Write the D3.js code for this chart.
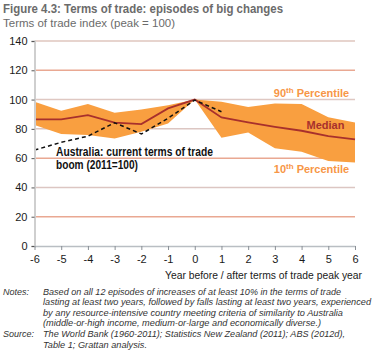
<!DOCTYPE html>
<html><head><meta charset="utf-8">
<script src="https://cdn.jsdelivr.net/npm/d3@7"></script>
<style>body{margin:0;background:#fff}svg{display:block}</style>
</head><body><div id="chart"></div>
<script>
const years = [-6,-5,-4,-3,-2,-1,0,1,2,3,4,5,6];
const p90 = [98.5,92.4,97,91,93.3,96.2,100,98.5,95,97.4,97,88,84.4];
const p10 = [82.6,76.5,75.8,73.5,78,83.7,100,74,77.5,66.7,64.4,58,57];
const median = [86.5,86.5,89.4,84.2,83.3,94,100,87.8,84.4,81.4,78.7,75,72.8];
const ausYears = [-6,-5,-4,-3,-2,-1,0,1];
const australia = [65.5,70.8,75,84.2,76.5,87.2,99.7,91.7];
const yTicks = [0,20,40,60,80,100,120,140];
const gridColors = {0:null,20:"#e9a892",40:"#dcc6c2",60:"#e9a892",80:"#dcc6c2",100:"#dfc8c2",120:"#e9a892",140:"#dfc6be"};

const W=378,H=362;
const F="Arial, Liberation Sans, sans-serif";
const svg=d3.select("#chart").append("svg").attr("width",W).attr("height",H);
const x=d3.scaleLinear().domain([-6,6]).range([34.5,355]);
const y=d3.scaleLinear().domain([0,140]).range([246,41]);

svg.append("text").attr("x",3).attr("y",13).attr("font-family",F)
  .attr("font-size",12).attr("font-weight","bold").attr("fill","#6b6b6b")
  .attr("textLength",280).attr("lengthAdjust","spacingAndGlyphs").text("Figure 4.3: Terms of trade: episodes of big changes");
svg.append("text").attr("x",3).attr("y",27).attr("font-family",F)
  .attr("font-size",11.5).attr("fill","#6b6b6b")
  .attr("textLength",172).attr("lengthAdjust","spacingAndGlyphs").text("Terms of trade index (peak = 100)");

// gridlines
svg.append("g").selectAll("line").data(yTicks.filter(d=>d>0)).join("line")
  .attr("x1",x(-6)).attr("x2",x(6)).attr("y1",d=>y(d)).attr("y2",d=>y(d))
  .attr("stroke",d=>gridColors[d]).attr("stroke-width",1.5);

// band
const area=d3.area().x((d,i)=>x(years[i])).y0((d,i)=>y(p10[i])).y1((d,i)=>y(p90[i]));
svg.append("path").datum(years).attr("d",area).attr("fill","#f99f40");

// median
const line=d3.line().x((d,i)=>x(years[i])).y(d=>y(d));
svg.append("path").datum(median).attr("d",line).attr("fill","none").attr("stroke","#a8302c").attr("stroke-width",1.8);

// australia
const aline=d3.line().x((d,i)=>x(ausYears[i])).y(d=>y(d));
svg.append("path").datum(australia).attr("d",aline).attr("fill","none").attr("stroke","#111").attr("stroke-width",1.5).attr("stroke-dasharray","4,3");

// y axis
const ya=svg.append("g").attr("transform",`translate(${x(-6)},0)`).call(d3.axisLeft(y).tickValues(yTicks).tickSize(3).tickPadding(4));
ya.select(".domain").attr("stroke","#cfcfcf").attr("stroke-width",2);
ya.selectAll(".tick line").attr("stroke","#555");
ya.selectAll("text").attr("font-family",F).attr("font-size",11).attr("fill","#1a1a1a");

// x axis
const xa=svg.append("g").attr("transform",`translate(0,${y(0)})`).call(d3.axisBottom(x).tickValues(years).tickFormat(d3.format("d")).tickSize(4).tickSizeOuter(0).tickPadding(5));
xa.select(".domain").attr("stroke","#b9bec3").attr("stroke-width",1.5);
xa.selectAll(".tick line").attr("stroke","#8a9096");
xa.selectAll("text").attr("font-family",F).attr("font-size",11).attr("fill","#1a1a1a").text(d=>d<0?"-"+Math.abs(d):d);

svg.append("text").attr("x",165).attr("y",279).attr("font-family",F)
  .attr("font-size",11).attr("fill","#1a1a1a").attr("textLength",197).attr("lengthAdjust","spacingAndGlyphs")
  .text("Year before / after terms of trade peak year");

// labels
const lab=(t,xx,yy,c,sup)=>{
  const tx=svg.append("text").attr("x",xx).attr("y",yy).attr("text-anchor","middle").attr("font-family",F)
   .attr("font-size",11).attr("font-weight","bold").attr("fill",c);
  if(sup){tx.append("tspan").text(sup[0]);tx.append("tspan").attr("dy",-4).attr("font-size",8).text(sup[1]);tx.append("tspan").attr("dy",4).text(sup[2]);}
  else tx.text(t);
};
lab(null,311.5,97,"#f79646",["90","th"," Percentile"]);
lab("Median",325.5,129,"#a8302c");
lab(null,311.5,173,"#f79646",["10","th"," Percentile"]);
svg.append("text").attr("x",56).attr("y",156).attr("font-family",F).attr("font-size",12).attr("font-weight","bold").attr("fill","#111")
  .attr("textLength",157).attr("lengthAdjust","spacingAndGlyphs").text("Australia: current terms of trade");
svg.append("text").attr("x",56).attr("y",169).attr("font-family",F).attr("font-size",12).attr("font-weight","bold").attr("fill","#111")
  .attr("textLength",82).attr("lengthAdjust","spacingAndGlyphs").text("boom (2011=100)");

// notes
const notes=["Based on all 12 episodes of increases of at least 10% in the terms of trade",
"lasting at least two years, followed by falls lasting at least two years, experienced",
"by any resource-intensive country meeting criteria of similarity to Australia",
"(middle-or-high income, medium-or-large and economically diverse.)"];
const notesW=[298,328,300,278];
const src=["The World Bank (1960-2011); Statistics New Zealand (2011); ABS (2012d),","Table 1; Grattan analysis."];
const srcW=[302,104];
const nf=(t,xx,yy,w)=>{const e=svg.append("text").attr("x",xx).attr("y",yy).attr("font-family",F).attr("font-size",9).attr("font-style","italic").attr("fill","#333").text(t);
  if(w) e.attr("textLength",w).attr("lengthAdjust","spacingAndGlyphs");};
nf("Notes:",3,294.5);
notes.forEach((t,i)=>nf(t,43,294.5+i*10.5,notesW[i]));
nf("Source:",3,337);
src.forEach((t,i)=>nf(t,43,337+i*10.5,srcW[i]));
</script></body></html>
